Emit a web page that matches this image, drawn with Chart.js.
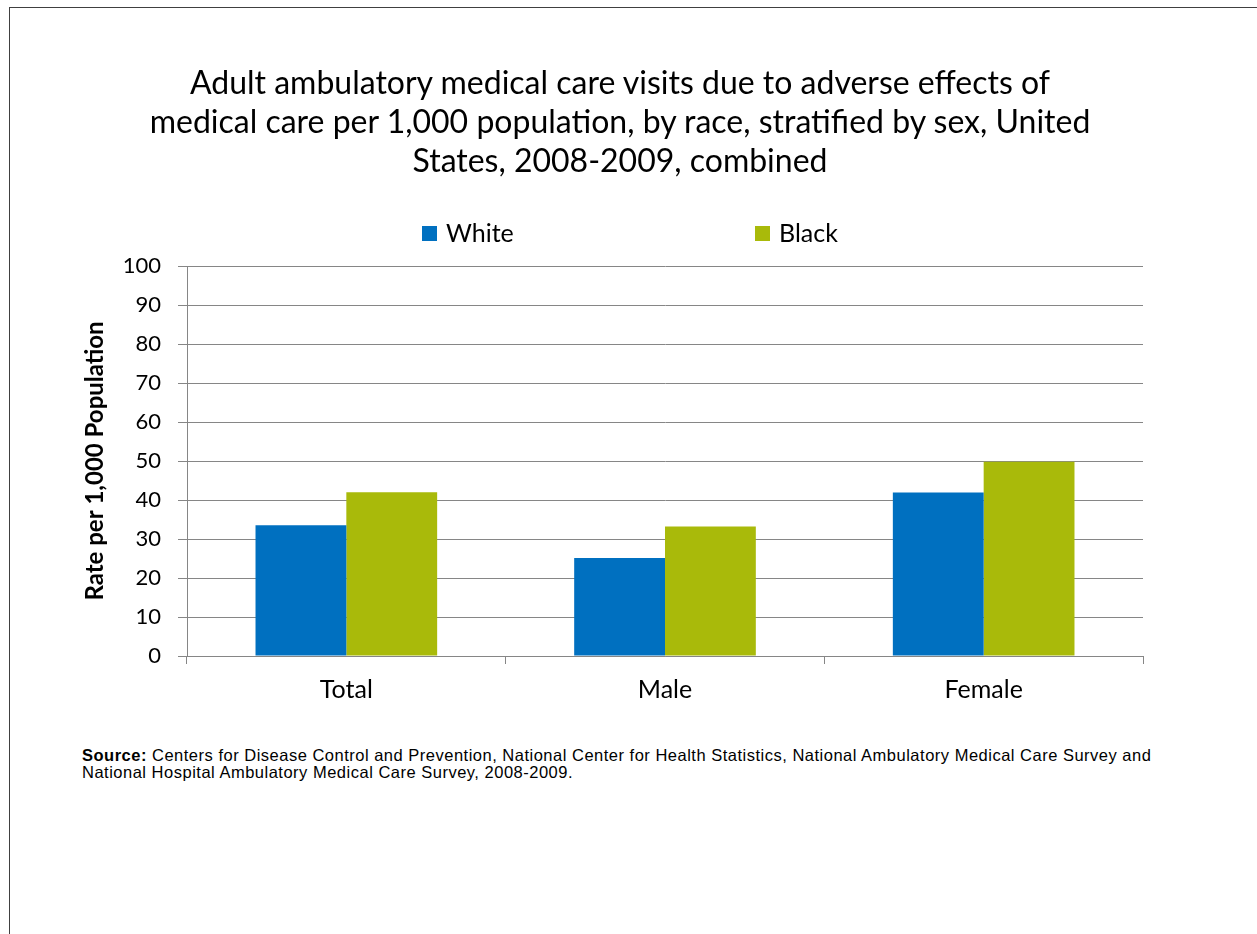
<!DOCTYPE html>
<html>
<head>
<meta charset="utf-8">
<script src="https://cdn.jsdelivr.net/npm/chart.js@4.4.1/dist/chart.umd.min.js"></script>
<style>
  body { margin: 0; background: #fff; }
  #frame { position: absolute; left: 9px; top: 7px; width: 1260px; height: 940px; border: 1px solid #404040; box-sizing: border-box; }
  #wrap { position: absolute; left: 0; top: 0; width: 1257px; height: 720px; }
  #title { position: absolute; left: 0; top: 62px; width: 1240px; text-align: center; font: 32px Lato, sans-serif; line-height: 39px; color: #000; }
  .sw { position: absolute; top: 226px; width: 15px; height: 15px; }
  .lt { position: absolute; top: 220px; font: 25px Lato, sans-serif; line-height: 25px; color: #000; white-space: nowrap; }
  #source { position: absolute; left: 82px; top: 747px; font: 16.5px "Liberation Sans", Arial, sans-serif; color: #000; line-height: 17px; letter-spacing: 0.5px; }
</style>
</head>
<body>
<div id="frame"></div>
<div id="wrap"><canvas id="chart"></canvas></div>
<div id="title"></div>
<div id="legend"></div>
<div id="source"><b>Source:</b> Centers for Disease Control and Prevention, National Center for Health Statistics, National Ambulatory Medical Care Survey and<br>National Hospital Ambulatory Medical Care Survey, 2008-2009.</div>
<script>
const categories = ["Total", "Male", "Female"];
const whiteValues = [33.5, 25.1, 41.9];
const blackValues = [42.0, 33.2, 49.8];
const seriesNames = ["White", "Black"];
const seriesColors = ["#0070C0", "#A9BA0A"];
const titleLines = [
  "Adult ambulatory medical care visits due to adverse effects of",
  "medical care per 1,000 population, by race, stratified by sex, United",
  "States, 2008-2009, combined"
];

document.getElementById("title").innerHTML = titleLines.join("<br>");

// legend in html so the wide gap between the two entries can match
const legendLeft = [422, 755];
const legend = document.getElementById("legend");
seriesNames.forEach((name, i) => {
  const sw = document.createElement("div");
  sw.className = "sw";
  sw.style.left = legendLeft[i] + "px";
  sw.style.background = seriesColors[i];
  legend.appendChild(sw);
  const t = document.createElement("div");
  t.className = "lt";
  t.style.left = (legendLeft[i] + 24) + "px";
  t.textContent = name;
  legend.appendChild(t);
});

const ctx = document.getElementById("chart").getContext("2d");
new Chart(ctx, {
  type: 'bar',
  data: {
    labels: categories,
    datasets: [
      { label: seriesNames[0], data: whiteValues, backgroundColor: seriesColors[0] },
      { label: seriesNames[1], data: blackValues, backgroundColor: seriesColors[1] }
    ]
  },
  options: {
    responsive: true,
    maintainAspectRatio: false,
    animation: false,
    categoryPercentage: 0.57,
    barPercentage: 1.0,
    layout: { padding: { left: 81, right: 114, top: 266, bottom: 0 } },
    plugins: {
      legend: { display: false },
      tooltip: { enabled: false },
      title: { display: false }
    },
    scales: {
      x: {
        offset: true,
        grid: { display: true, drawOnChartArea: false, offset: true, color: '#868686', tickLength: 8 },
        border: { color: '#868686', width: 1 },
        ticks: { color: '#000', font: { family: 'Lato', size: 25 }, padding: 11 },
        afterFit: (s) => { s.height = 64; }
      },
      y: {
        min: 0,
        max: 100,
        ticks: { stepSize: 10, color: '#000', font: { family: 'Lato', size: 22 }, padding: 17 },
        grid: { color: '#868686', tickLength: 9 },
        border: { color: '#868686', width: 1 },
        title: {
          display: true,
          text: 'Rate per 1,000 Population',
          color: '#000',
          font: { family: 'Lato', size: 24, weight: 'bold' },
          padding: { top: 0, bottom: 0 }
        },
        afterFit: (s) => { s.width = 106; }
      }
    }
  }
});
</script>
</body>
</html>
